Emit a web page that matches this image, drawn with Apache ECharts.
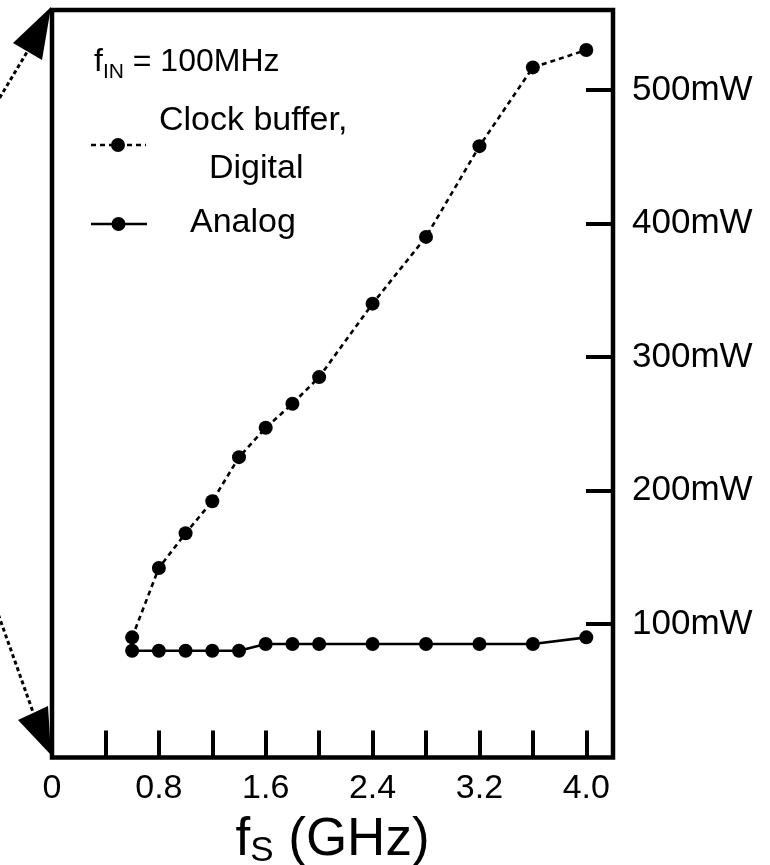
<!DOCTYPE html>
<html>
<head>
<meta charset="utf-8">
<script src="https://cdn.jsdelivr.net/npm/echarts@6/dist/echarts.min.js"></script>
<style>
  html, body { margin: 0; padding: 0; background: #fff; }
  #chart { width: 770px; height: 865px; }
</style>
</head>
<body>
<div id="chart"></div>
<script>
// Sampling frequency fS (GHz)
const fs = [0.6, 0.8, 1.0, 1.2, 1.4, 1.6, 1.8, 2.0, 2.4, 2.8, 3.2, 3.6, 4.0];
// Power consumption (mW)
const digitalPower = [90, 142, 168, 192, 225, 247, 265, 285, 340, 390, 458, 517, 530];
const analogPower = [80, 80, 80, 80, 80, 85, 85, 85, 85, 85, 85, 85, 90];

// Axis ticks and labels
const xTickValues = [0.4, 0.8, 1.2, 1.6, 2.0, 2.4, 2.8, 3.2, 3.6, 4.0];
const xLabelValues = [0, 0.8, 1.6, 2.4, 3.2, 4.0];
const yLabelValues = [100, 200, 300, 400, 500];

const FONT = '"Liberation Sans", Arial, Helvetica, sans-serif';
const INK = '#000';

const chart = echarts.init(document.getElementById('chart'), null, { renderer: 'canvas' });

const pairs = (ys) => fs.map((x, i) => [x, ys[i]]);

chart.setOption({
  animation: false,
  backgroundColor: '#fff',
  grid: {
    left: 52, right: 157, top: 10, bottom: 107.5,
    containLabel: false, outerBoundsMode: 'none',
    show: true, borderColor: INK, borderWidth: 4.5, backgroundColor: 'transparent'
  },
  xAxis: {
    type: 'value', min: 0, max: 4.2,
    axisLine: { show: false, onZero: false },
    splitLine: { show: false },
    axisTick: {
      show: true, inside: true, length: 27, customValues: xTickValues,
      lineStyle: { color: INK, width: 4 }
    },
    axisLabel: {
      customValues: xLabelValues, margin: 14,
      color: INK, fontFamily: FONT, fontSize: 34,
      formatter: (v) => (v === 0 ? '0' : v.toFixed(1))
    },
    name: '{a|f}{b|S}{a| (GHz)}',
    nameLocation: 'middle',
    nameGap: 54,
    nameTextStyle: {
      rich: {
        a: { fontFamily: FONT, fontSize: 53, color: INK },
        b: { fontFamily: FONT, fontSize: 35, color: INK, padding: [22, 0, 0, 0] }
      }
    }
  },
  yAxis: {
    type: 'value', position: 'right', min: 0, max: 560, interval: 100,
    axisLine: { show: false, onZero: false },
    splitLine: { show: false },
    axisTick: {
      show: true, inside: true, length: 27,
      lineStyle: { color: INK, width: 4 }
    },
    axisLabel: {
      margin: 19, showMinLabel: false, showMaxLabel: false,
      color: INK, fontFamily: FONT, fontSize: 35,
      formatter: (v) => (yLabelValues.includes(v) ? v + 'mW' : '')
    }
  },
  series: [
    {
      name: 'Clock buffer, Digital',
      type: 'line',
      data: pairs(digitalPower),
      symbol: 'circle', symbolSize: 14,
      itemStyle: { color: INK },
      lineStyle: { color: INK, width: 2.6, type: [5, 4] },
      z: 3
    },
    {
      name: 'Analog',
      type: 'line',
      data: pairs(analogPower),
      symbol: 'circle', symbolSize: 14,
      itemStyle: { color: INK },
      lineStyle: { color: INK, width: 2.6 },
      z: 4
    }
  ],
  graphic: [
    // arrows pointing at the left edge of the panel
    { type: 'polyline', shape: { points: [[-4, 104], [27, 52]] },
      style: { stroke: INK, lineWidth: 3, lineDash: [4, 3], fill: null } },
    { type: 'polygon', shape: { points: [[51, 7], [13, 43], [42, 60]] },
      style: { fill: INK } },
    { type: 'polyline', shape: { points: [[-4, 608], [33, 712]] },
      style: { stroke: INK, lineWidth: 3, lineDash: [4, 3], fill: null } },
    { type: 'polygon', shape: { points: [[51, 755], [18, 720], [48, 706]] },
      style: { fill: INK } },

    // in-plot legend
    { type: 'text', left: 94, top: 46,
      style: {
        text: '{a|f}{b|IN}{a| = 100MHz}',
        rich: {
          a: { fontFamily: FONT, fontSize: 32, fill: INK },
          b: { fontFamily: FONT, fontSize: 21, fill: INK, padding: [20, 0, 0, 0] }
        }
      } },
    { type: 'polyline', shape: { points: [[91, 145], [146, 145]] },
      style: { stroke: INK, lineWidth: 2.5, lineDash: [5, 4], fill: null } },
    { type: 'circle', shape: { cx: 118, cy: 145, r: 7 }, style: { fill: INK } },
    { type: 'text', left: 159, top: 104,
      style: { text: 'Clock buffer,', fontFamily: FONT, fontSize: 34, fill: INK } },
    { type: 'text', left: 209, top: 152,
      style: { text: 'Digital', fontFamily: FONT, fontSize: 34, fill: INK } },
    { type: 'polyline', shape: { points: [[91, 224], [147, 224]] },
      style: { stroke: INK, lineWidth: 2.5, fill: null } },
    { type: 'circle', shape: { cx: 118.5, cy: 224, r: 7 }, style: { fill: INK } },
    { type: 'text', left: 190, top: 206,
      style: { text: 'Analog', fontFamily: FONT, fontSize: 34, fill: INK } }
  ]
});
</script>
</body>
</html>
